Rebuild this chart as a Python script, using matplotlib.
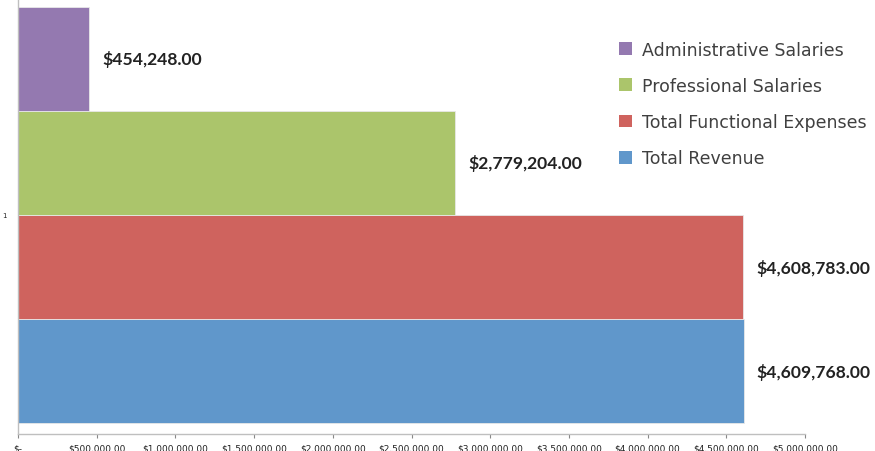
"""Revenue vs. expenses horizontal bar chart"""

import matplotlib
matplotlib.use('Agg')
import matplotlib.pyplot as plt
from matplotlib.ticker import FuncFormatter
from matplotlib.patches import Patch

# Data (bottom to top within the single category)
categories = ['Total Revenue', 'Total Functional Expenses',
              'Professional Salaries', 'Administrative Salaries']
values = [4609768.00, 4608783.00, 2779204.00, 454248.00]
colors = ['#6097CB', '#CF635E', '#ABC56B', '#9479B0']
group_label = '1'
x_ticks = [0, 500000, 1000000, 1500000, 2000000, 2500000,
           3000000, 3500000, 4000000, 4500000, 5000000]

plt.rcParams['font.family'] = ['DejaVu Sans']

fig = plt.figure(figsize=(8.75, 4.52), dpi=100)
ax = fig.add_axes([18 / 875, 17 / 452, (805 - 18) / 875, 438 / 452])

bar_h = 0.2375
n = len(values)
offsets = [(i - (n - 1) / 2) * bar_h for i in range(n)]

for off, val, col in zip(offsets, values, colors):
    ax.barh(off, val, height=bar_h, color=col, edgecolor='#e8e8e8', linewidth=0.6)
    ax.annotate(f'${val:,.2f}', xy=(val, off), xytext=(13, 0),
                textcoords='offset pixels',
                ha='left', va='center', fontsize=12.6, fontweight='bold',
                family=['Lato', 'DejaVu Sans'], color='#222222')

ax.set_xlim(0, 5000000)
ax.set_ylim(-0.5, 0.5)
ax.set_xticks(x_ticks)


def money(x, pos):
    if x == 0:
        return '$-'
    return f'${x:,.2f}'


ax.xaxis.set_major_formatter(FuncFormatter(money))
ax.tick_params(axis='x', labelsize=6.5, colors='#888888', length=3, width=0.8,
               labelcolor='#222222', pad=4)
ax.set_yticks([0])
ax.set_yticklabels([group_label])
ax.tick_params(axis='y', labelsize=5, length=0, labelcolor='#222222', pad=8)

for side in ['top', 'right']:
    ax.spines[side].set_visible(False)
for side in ['left', 'bottom']:
    ax.spines[side].set_color('#bfbfbf')
    ax.spines[side].set_linewidth(1.0)

# Legend, top entry = top bar
handles = [Patch(facecolor=c, label=l) for l, c in zip(categories[::-1], colors[::-1])]
fig.legend(handles=handles, loc='upper left', bbox_to_anchor=(603 / 875, 1 - 26 / 452),
           frameon=False, fontsize=12.5, handlelength=0.75, handleheight=0.75,
           handletextpad=0.6, labelspacing=1.05, labelcolor='#404040')

fig.savefig('out.png', dpi=100)
